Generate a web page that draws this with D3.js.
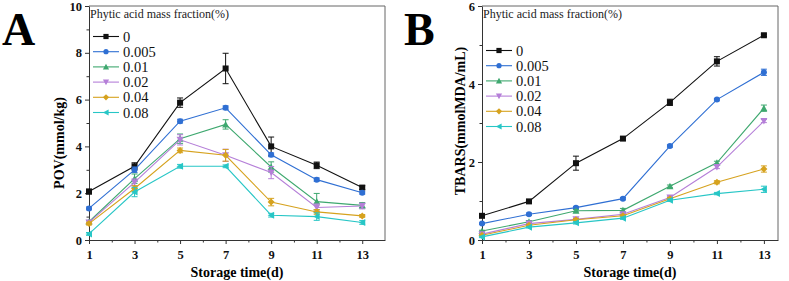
<!DOCTYPE html>
<html>
<head>
<meta charset="utf-8">
<script src="https://cdn.jsdelivr.net/npm/d3@7"></script>
<style>
  body { margin: 0; background: #fff; }
  svg text { font-family: "Liberation Serif", "Times New Roman", serif; }
</style>
</head>
<body>
<div id="chart"></div>
<script>
// storage days shared by both panels
const days = [1, 3, 5, 7, 9, 11, 13];
const fractions = ["0", "0.005", "0.01", "0.02", "0.04", "0.08"];

// panel A: POV (mmol/kg)
const povMean = [
  [2.07, 3.15, 5.87, 7.33, 4.0, 3.19, 2.24],
  [1.35, 3.0, 5.08, 5.65, 3.64, 2.58, 2.02],
  [0.78, 2.62, 4.33, 4.94, 3.12, 1.64, 1.48],
  [0.75, 2.46, 4.28, 3.62, 2.88, 1.39, 1.45],
  [0.7, 2.2, 3.83, 3.62, 1.62, 1.2, 1.03],
  [0.26, 2.05, 3.15, 3.15, 1.06, 1.0, 0.75]
];
const povErr = [
  [0.1, 0.15, 0.2, 0.65, 0.4, 0.14, 0.08],
  [0.06, 0.12, 0.08, 0.08, 0.08, 0.07, 0.06],
  [0.06, 0.2, 0.2, 0.2, 0.22, 0.35, 0.12],
  [0.06, 0.15, 0.22, 0.26, 0.26, 0.15, 0.12],
  [0.06, 0.12, 0.1, 0.25, 0.16, 0.1, 0.06],
  [0.06, 0.2, 0.08, 0.06, 0.08, 0.16, 0.08]
];

// panel B: TBARS (mmolMDA/mL)
const tbarsMean = [
  [0.62, 0.99, 1.97, 2.6, 3.53, 4.58, 5.25],
  [0.42, 0.66, 0.83, 1.06, 2.41, 3.6, 4.3],
  [0.23, 0.47, 0.75, 0.76, 1.38, 1.98, 3.38],
  [0.15, 0.42, 0.53, 0.66, 1.09, 1.87, 3.05],
  [0.12, 0.38, 0.52, 0.62, 1.06, 1.48, 1.82],
  [0.08, 0.33, 0.44, 0.56, 1.02, 1.19, 1.3]
];
const tbarsErr = [
  [0.03, 0.03, 0.18, 0.04, 0.08, 0.12, 0.03],
  [0.02, 0.03, 0.03, 0.03, 0.03, 0.03, 0.08],
  [0.02, 0.03, 0.03, 0.05, 0.03, 0.04, 0.08],
  [0.02, 0.02, 0.03, 0.03, 0.03, 0.04, 0.04],
  [0.02, 0.02, 0.03, 0.03, 0.03, 0.04, 0.08],
  [0.02, 0.02, 0.03, 0.03, 0.03, 0.03, 0.08]
];

const colors = ["#111111", "#2f6fd3", "#3ea86f", "#b57fd8", "#d6a21e", "#27c6c6"];
const symbols = ["square", "circle", "triUp", "triDown", "diamond", "triLeft"];

const svg = d3.select("#chart").append("svg")
  .attr("width", 789).attr("height", 281);

function marker(g, type, color, s) {
  // s = half size
  if (type === "square") {
    g.append("rect").attr("x", -s).attr("y", -s).attr("width", 2 * s).attr("height", 2 * s).attr("fill", color);
  } else if (type === "circle") {
    g.append("circle").attr("r", s).attr("fill", color);
  } else {
    let pts;
    if (type === "triUp") pts = [[0, -s - 0.5], [s + 0.5, s], [-s - 0.5, s]];
    if (type === "triDown") pts = [[0, s + 0.5], [s + 0.5, -s], [-s - 0.5, -s]];
    if (type === "triLeft") pts = [[-s - 0.5, 0], [s, -s - 0.5], [s, s + 0.5]];
    if (type === "diamond") pts = [[0, -s - 0.5], [s + 0.5, 0], [0, s + 0.5], [-s - 0.5, 0]];
    g.append("polygon").attr("points", pts.map(p => p.join(",")).join(" ")).attr("fill", color);
  }
}

function panel(cfg) {
  const x = d3.scaleLinear().domain(cfg.xDomain).range([cfg.left, cfg.right]);
  const y = d3.scaleLinear().domain(cfg.yDomain).range([cfg.bottom, cfg.top]);
  const g = svg.append("g");

  // frame (top and right)
  g.append("path")
    .attr("d", `M${cfg.left},${cfg.top}H${cfg.right}V${cfg.bottom}`)
    .attr("fill", "none").attr("stroke", "#666").attr("stroke-width", 1);

  // x axis
  const xa = g.append("g").attr("transform", `translate(0,${cfg.bottom})`)
    .call(d3.axisBottom(x).tickValues(days).tickSize(4).tickSizeOuter(0));
  g.append("g").attr("transform", `translate(0,${cfg.bottom})`)
    .call(d3.axisBottom(x).tickValues([2, 4, 6, 8, 10, 12]).tickSize(2.5).tickFormat("").tickSizeOuter(0))
    .select(".domain").remove();

  // y axis
  const ya = g.append("g").attr("transform", `translate(${cfg.left},0)`)
    .call(d3.axisLeft(y).tickValues(cfg.yTicks).tickFormat(d3.format("d")).tickSize(4).tickSizeOuter(0));
  g.append("g").attr("transform", `translate(${cfg.left},0)`)
    .call(d3.axisLeft(y).tickValues(cfg.yMinor).tickSize(2.5).tickFormat("").tickSizeOuter(0))
    .select(".domain").remove();

  g.selectAll(".domain").attr("stroke", "#333");
  g.selectAll(".tick line").attr("stroke", "#333");
  xa.selectAll("text").attr("font-size", 12.5).attr("font-weight", "bold")
    .attr("font-family", "Liberation Serif").attr("fill", "#111").attr("dy", "0.95em");
  ya.selectAll("text").attr("font-size", 12.5).attr("font-weight", "bold")
    .attr("font-family", "Liberation Serif").attr("fill", "#111").attr("x", -7);

  // axis titles
  g.append("text").attr("x", (cfg.left + cfg.right) / 2).attr("y", 277)
    .attr("text-anchor", "middle").attr("font-size", 14).attr("font-weight", "bold")
    .text("Storage time(d)");
  g.append("text").attr("transform", `translate(${cfg.yTitleX},${cfg.yTitleY}) rotate(-90)`)
    .attr("text-anchor", "middle").attr("font-size", 14).attr("font-weight", "bold")
    .text(cfg.yTitle);

  // panel letter
  g.append("text").attr("x", cfg.letterX).attr("y", 45)
    .attr("font-size", 46).attr("font-weight", "bold").text(cfg.letter);

  // series
  cfg.mean.forEach((vals, i) => {
    const s = g.append("g");
    const pts = days.map((d, j) => ({ d, v: vals[j], e: cfg.err[i][j] }));
    s.append("path").datum(pts)
      .attr("d", d3.line().x(p => x(p.d)).y(p => y(p.v)))
      .attr("fill", "none").attr("stroke", colors[i]).attr("stroke-width", 1.1);
    pts.forEach(p => {
      const px = x(p.d), y1 = y(p.v + p.e), y0 = y(p.v - p.e);
      s.append("path")
        .attr("d", `M${px},${y0}V${y1}M${px - 3},${y0}H${px + 3}M${px - 3},${y1}H${px + 3}`)
        .attr("stroke", colors[i]).attr("stroke-width", 1).attr("fill", "none");
      marker(s.append("g").attr("transform", `translate(${px},${y(p.v)})`), symbols[i], colors[i], 3);
    });
  });

  // legend
  g.append("text").attr("x", cfg.legX - 3).attr("y", 18).attr("font-size", 12).attr("fill", "#222")
    .text("Phytic acid mass fraction(%)");
  fractions.forEach((f, i) => {
    const ly = cfg.legY + i * 15.2;
    const lg = g.append("g");
    lg.append("line").attr("x1", cfg.legX).attr("x2", cfg.legX + 26).attr("y1", ly).attr("y2", ly)
      .attr("stroke", colors[i]).attr("stroke-width", 1.1);
    marker(lg.append("g").attr("transform", `translate(${cfg.legX + 13},${ly})`), symbols[i], colors[i], 2.6);
    lg.append("text").attr("x", cfg.legX + 30).attr("y", ly + 5).attr("font-size", 14.5).attr("fill", "#111").text(f);
  });
}

panel({
  letter: "A", letterX: 2,
  left: 89, right: 385, top: 6, bottom: 240,
  xDomain: [1, 14], yDomain: [0, 10],
  yTicks: [0, 2, 4, 6, 8, 10], yMinor: [1, 3, 5, 7, 9],
  yTitle: "POV(mmol/kg)", yTitleX: 64, yTitleY: 143,
  mean: povMean, err: povErr,
  legX: 93, legY: 36.5
});

panel({
  letter: "B", letterX: 404,
  left: 482, right: 778, top: 6, bottom: 240,
  xDomain: [1, 13.6], yDomain: [0, 6],
  yTicks: [0, 2, 4, 6], yMinor: [1, 3, 5],
  yTitle: "TBARS(mmolMDA/mL)", yTitleX: 465, yTitleY: 121,
  mean: tbarsMean, err: tbarsErr,
  legX: 486, legY: 50.5
});
</script>
</body>
</html>
